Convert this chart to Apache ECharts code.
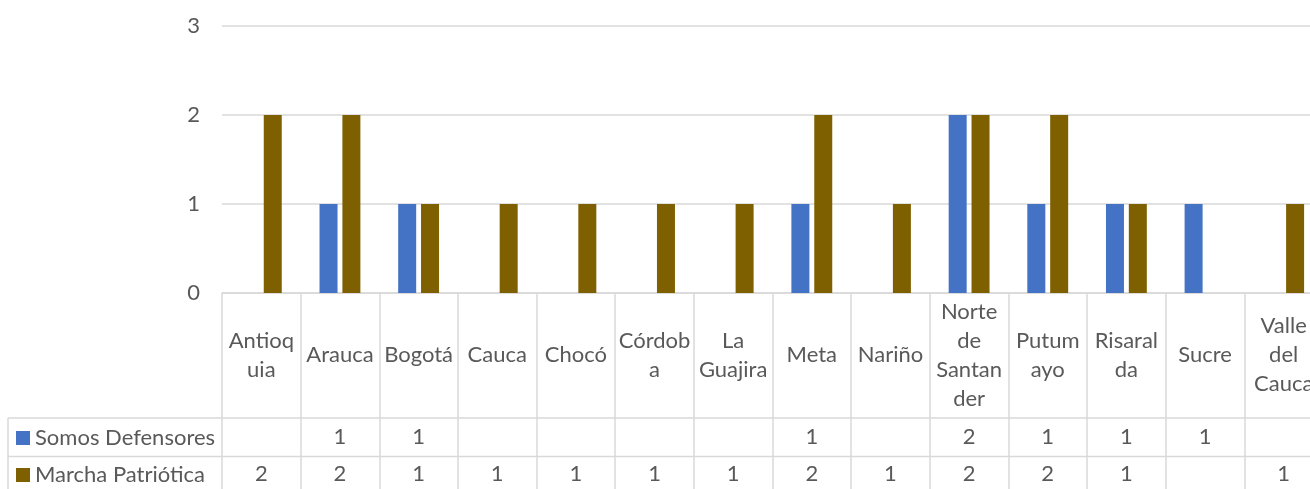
<!DOCTYPE html>
<html>
<head>
<meta charset="utf-8">
<script src="https://cdn.jsdelivr.net/npm/echarts@6/dist/echarts.min.js"></script>
<style>
  html, body { margin: 0; padding: 0; background: #fff; }
  #chart { width: 1310px; height: 489px; }
</style>
</head>
<body>
<div id="chart"></div>
<script>
// datos
var categories = ['Antioquia', 'Arauca', 'Bogotá', 'Cauca', 'Chocó', 'Córdoba', 'La Guajira',
    'Meta', 'Nariño', 'Norte de Santander', 'Putumayo', 'Risaralda', 'Sucre', 'Valle del Cauca'];
// etiquetas tal como Excel las corta en la celda
var tickLabels = ['Antioq\nuia', 'Arauca', 'Bogotá', 'Cauca', 'Chocó', 'Córdob\na', 'La\nGuajira',
    'Meta', 'Nariño', 'Norte\nde\nSantan\nder', 'Putum\nayo', 'Risaral\nda', 'Sucre', 'Valle\ndel\nCauca'];
var somosDefensores = [null, 1, 1, null, null, null, null, 1, null, 2, 1, 1, 1, null];
var marchaPatriotica = [2, 2, 1, 1, 1, 1, 1, 2, 1, 2, 2, 1, null, 1];
var seriesNames = ['Somos Defensores', 'Marcha Patriótica'];

var font = 'Lato, "Open Sans", sans-serif';
var textColor = '#595959';
var lineColor = '#D9D9D9';

var chart = echarts.init(document.getElementById('chart'));

// fila de la tabla de datos debajo del eje
var tableRow = function (values, offset) {
    return {
        type: 'category',
        data: categories,
        position: 'bottom',
        offset: offset,
        axisLine: { show: false },
        axisTick: { show: false },
        axisLabel: {
            interval: 0,
            margin: 0,
            verticalAlign: 'middle',
            fontFamily: font,
            fontSize: 22,
            color: textColor,
            formatter: function (value, index) {
                return values[index] == null ? '' : String(values[index]);
            }
        }
    };
};

// una leyenda por fila de la tabla
var rowLegend = function (name, top) {
    return {
        orient: 'vertical',
        left: 16,
        top: top,
        padding: 0,
        icon: 'rect',
        itemWidth: 14,
        itemHeight: 14,
        selectedMode: false,
        data: [name],
        textStyle: {
            fontFamily: font,
            fontSize: 22,
            lineHeight: 24,
            color: textColor
        }
    };
};

var option = {
    animation: false,
    color: ['#4472C4', '#7F6000'],
    grid: {
        left: 222,
        width: 1101,   // el grafico original sigue fuera del recorte
        top: 26,
        height: 267,
        containLabel: false,
        outerBoundsMode: 'none'
    },
    legend: [
        rowLegend(seriesNames[0], 426),
        rowLegend(seriesNames[1], 463)
    ],
    xAxis: [
        {
            type: 'category',
            data: categories,
            axisLine: { show: true, lineStyle: { color: lineColor, width: 1.5 } },
            axisTick: {
                show: true,
                alignWithLabel: false,
                interval: 0,
                length: 200,
                lineStyle: { color: lineColor, width: 1.5 }
            },
            axisLabel: {
                interval: 0,
                margin: 62,
                verticalAlign: 'middle',
                fontFamily: font,
                fontSize: 22,
                lineHeight: 29,
                color: textColor,
                formatter: function (value, index) {
                    return tickLabels[index];
                }
            }
        },
        tableRow(somosDefensores, 144),
        tableRow(marchaPatriotica, 181)
    ],
    yAxis: {
        type: 'value',
        min: 0,
        max: 3,
        interval: 1,
        axisLine: { show: false },
        axisTick: { show: false },
        axisLabel: {
            margin: 22,
            fontFamily: font,
            fontSize: 22,
            color: textColor
        },
        splitLine: { lineStyle: { color: lineColor, width: 1.5 } }
    },
    series: [
        {
            name: seriesNames[0],
            type: 'bar',
            barWidth: 18,
            barGap: '27%',
            data: somosDefensores
        },
        {
            name: seriesNames[1],
            type: 'bar',
            barWidth: 18,
            barGap: '27%',
            data: marchaPatriotica
        }
    ],
    graphic: [
        // lineas horizontales de la tabla
        { type: 'line', shape: { x1: 8, y1: 418, x2: 1323, y2: 418 }, style: { stroke: lineColor, lineWidth: 1.5 }, z: 0 },
        { type: 'line', shape: { x1: 8, y1: 456.5, x2: 1323, y2: 456.5 }, style: { stroke: lineColor, lineWidth: 1.5 }, z: 0 },
        { type: 'line', shape: { x1: 8, y1: 418, x2: 8, y2: 489 }, style: { stroke: lineColor, lineWidth: 1.5 }, z: 0 }
    ]
};

chart.setOption(option);
</script>
</body>
</html>
